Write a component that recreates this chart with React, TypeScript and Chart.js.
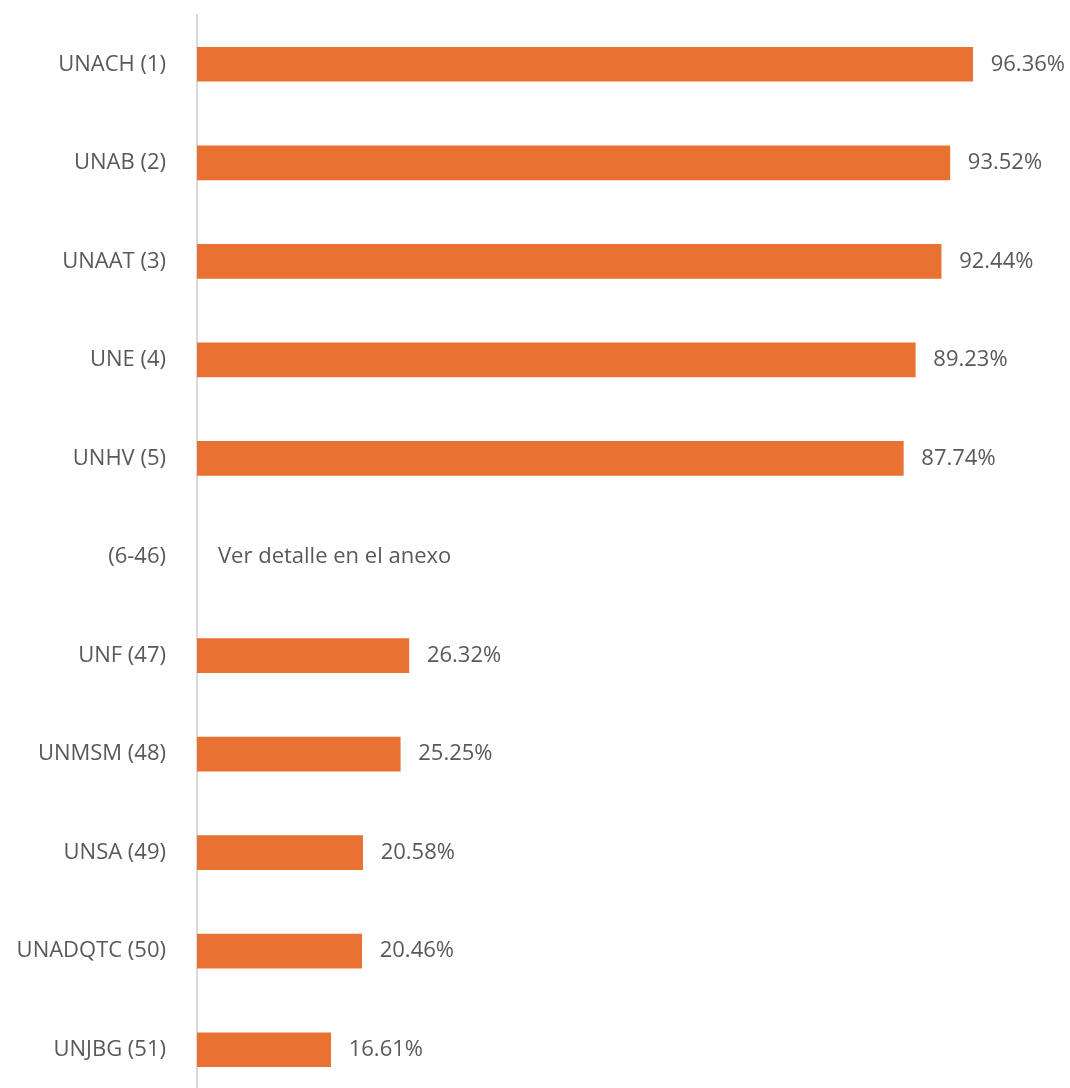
import React, { useEffect, useRef } from "react";
import { Chart, registerables } from "chart.js";

Chart.register(...registerables);

const categories = [
  "UNACH (1)",
  "UNAB (2)",
  "UNAAT (3)",
  "UNE (4)",
  "UNHV (5)",
  "(6-46)",
  "UNF (47)",
  "UNMSM (48)",
  "UNSA (49)",
  "UNADQTC (50)",
  "UNJBG (51)",
];

const values: (number | null)[] = [
  96.36, 93.52, 92.44, 89.23, 87.74, null, 26.32, 25.25, 20.58, 20.46, 16.61,
];

const notes: (string | null)[] = [
  null, null, null, null, null, "Ver detalle en el anexo", null, null, null, null, null,
];

const FONT = "'Open Sans', sans-serif";
const FONT_SIZE = 22;
const TEXT_COLOR = "#595959";
const BAR_COLOR = "#E97132";

const labelPlugin = {
  id: "valueLabels",
  afterDatasetsDraw(chart: any) {
    const ctx = chart.ctx;
    const meta = chart.getDatasetMeta(0);
    const yScale = chart.scales.y;
    ctx.save();
    ctx.font = `${FONT_SIZE}px ${FONT}`;
    ctx.fillStyle = TEXT_COLOR;
    ctx.textBaseline = "middle";
    ctx.textAlign = "left";
    values.forEach((v, i) => {
      const y = yScale.getPixelForValue(i);
      if (v == null) {
        const note = notes[i];
        if (note) ctx.fillText(note, chart.chartArea.left + 21, y);
        return;
      }
      const el = meta.data[i];
      ctx.fillText(v.toFixed(2) + "%", el.x + 18, y);
    });
    ctx.restore();
  },
};

export default function App() {
  const ref = useRef<HTMLCanvasElement | null>(null);

  useEffect(() => {
    if (!ref.current) return;
    const chart = new Chart(ref.current, {
      type: "bar",
      data: {
        labels: categories,
        datasets: [
          {
            data: values,
            backgroundColor: BAR_COLOR,
            borderWidth: 0,
            barThickness: 34,
          },
        ],
      },
      options: {
        indexAxis: "y",
        animation: false,
        responsive: false,
        maintainAspectRatio: false,
        layout: { padding: { left: 0, right: 68, top: 15, bottom: 1 } },
        plugins: {
          legend: { display: false },
          tooltip: { enabled: false },
        },
        scales: {
          x: {
            min: 0,
            max: 100,
            display: false,
            grid: { display: false },
          },
          y: {
            afterFit: (s: any) => {
              s.width = 197;
              s.paddingTop = 0;
              s.paddingBottom = 0;
            },
            grid: { display: false, drawTicks: false },
            border: { display: true, color: "#D9D9D9", width: 2 },
            ticks: {
              padding: 31,
              color: TEXT_COLOR,
              font: { family: FONT, size: FONT_SIZE },
            },
          },
        },
      },
      plugins: [labelPlugin],
    });
    return () => chart.destroy();
  }, []);

  return (
    <div style={{ position: "fixed", left: 0, top: 0, width: 1070, height: 1100, background: "#fff" }}>
      <canvas ref={ref} width={1070} height={1100} style={{ display: "block" }} />
    </div>
  );
}
